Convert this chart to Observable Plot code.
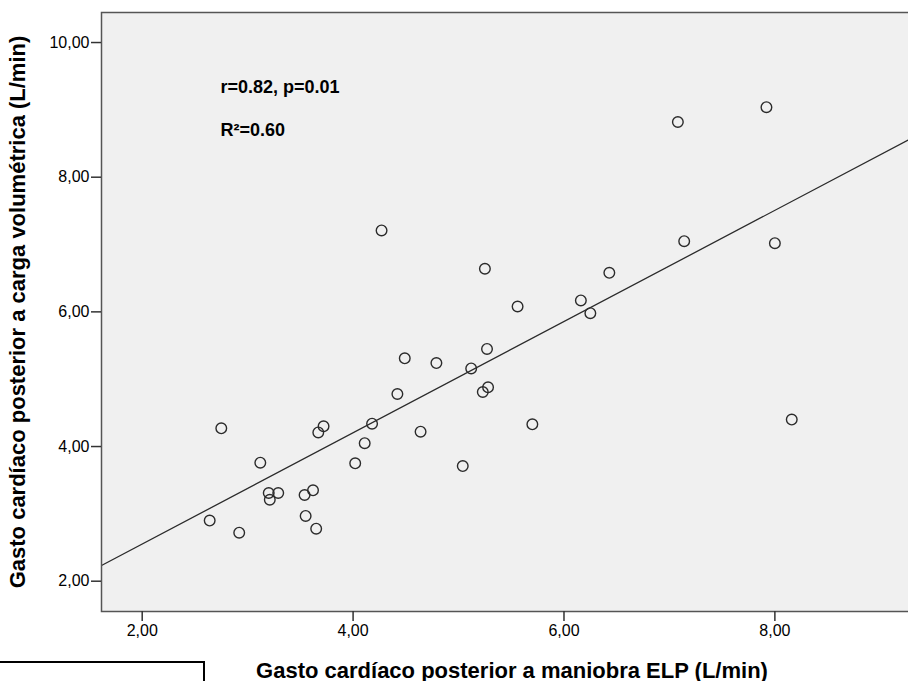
<!DOCTYPE html>
<html>
<head>
<meta charset="utf-8">
<script src="https://cdn.jsdelivr.net/npm/d3@7"></script>
<script src="https://cdn.jsdelivr.net/npm/@observablehq/plot@0.6"></script>
<style>
  html, body { margin: 0; padding: 0; background: #fff; overflow: hidden; width: 908px; height: 681px; }
  #chart { position: absolute; left: 0; top: 0; }
  #chart svg { max-width: none !important; }
  #box { position: absolute; left: 0; top: 661px; width: 203px; height: 40px; border-top: 2px solid #000; border-right: 2px solid #000; }
</style>
</head>
<body>
<div id="chart"></div>
<div id="box"></div>
<script>
// Gasto cardíaco posterior a maniobra ELP (L/min)
const gcELP = [2.64, 2.75, 2.92, 3.12, 3.20, 3.21, 3.29, 3.54, 3.55, 3.62, 3.65, 3.67, 3.72,
  4.02, 4.11, 4.18, 4.27, 4.42, 4.49, 4.64, 4.79, 5.04, 5.12, 5.23, 5.28, 5.27, 5.25,
  5.56, 5.70, 6.16, 6.43, 6.25, 7.08, 7.14, 7.92, 8.00, 8.16];
// Gasto cardíaco posterior a carga volumétrica (L/min)
const gcCarga = [2.90, 4.27, 2.72, 3.76, 3.31, 3.21, 3.31, 3.28, 2.97, 3.35, 2.78, 4.21, 4.30,
  3.75, 4.05, 4.34, 7.21, 4.78, 5.31, 4.22, 5.24, 3.71, 5.16, 4.81, 4.88, 5.45, 6.64,
  6.08, 4.33, 6.17, 6.58, 5.98, 8.82, 7.05, 9.04, 7.02, 4.40];

// Fit line
const fitIntercept = 0.90;
const fitSlope = 0.826;

// Axes
const xDomain = [1.614, 9.40];
const yDomain = [1.55, 10.446];
const xTicks = [2, 4, 6, 8];
const yTicks = [2, 4, 6, 8, 10];
const xTitle = "Gasto cardíaco posterior a maniobra ELP (L/min)";
const yTitle = "Gasto cardíaco posterior a carga volumétrica (L/min)";

// Annotations
const annotText = ["r=0.82, p=0.01", "R²=0.60"];
const annotX = [2.742, 2.742];
const annotY = [9.257, 8.618];

const points = gcELP.map((x, i) => ({x, y: gcCarga[i]}));
const fitLine = xDomain.map(x => ({x, y: fitIntercept + fitSlope * x}));
const annots = annotText.map((t, i) => ({t, x: annotX[i], y: annotY[i]}));
const fmt = d => d3.format(".2f")(d).replace(".", ",");
const font = "'Liberation Sans', Arial, sans-serif";

const chart = Plot.plot({
  width: 922,
  height: 681,
  marginLeft: 101,
  marginTop: 12,
  marginRight: 0,
  marginBottom: 70,
  style: {fontFamily: font, background: "#fff", color: "#000", overflow: "visible", maxWidth: "none"},
  x: {domain: xDomain},
  y: {domain: yDomain},
  marks: [
    Plot.frame({fill: "#f0f0f0"}),
    Plot.line(fitLine, {x: "x", y: "y", stroke: "#2b2b2b", strokeWidth: 1.3, clip: true}),
    Plot.dot(points, {x: "x", y: "y", r: 5.3, stroke: "#2b2b2b", strokeWidth: 1.4, fill: "none"}),
    Plot.text(annots, {x: "x", y: "y", text: "t", textAnchor: "start", lineAnchor: "bottom",
      fontSize: 18, fontWeight: "bold", fill: "#000"}),
    Plot.frame({stroke: "#555", strokeWidth: 1.5}),
    Plot.axisX({ticks: xTicks, tickFormat: fmt, tickSize: 10, tickPadding: 3, fontSize: 16,
      stroke: "#333", strokeWidth: 1.5, label: null}),
    Plot.axisY({ticks: yTicks, tickFormat: fmt, tickSize: 10, tickPadding: 2, fontSize: 16,
      stroke: "#333", strokeWidth: 1.5, label: null}),
    Plot.axisX({ticks: [], tickSize: 0, label: xTitle, labelArrow: false, labelAnchor: "center", labelOffset: 66,
      fontSize: 22, fontWeight: "bold"}),
    Plot.axisY({ticks: [], tickSize: 0, label: yTitle, labelArrow: false, labelAnchor: "center", labelOffset: 92,
      fontSize: 22, fontWeight: "bold"})
  ]
});
document.getElementById("chart").appendChild(chart);
</script>
</body>
</html>
